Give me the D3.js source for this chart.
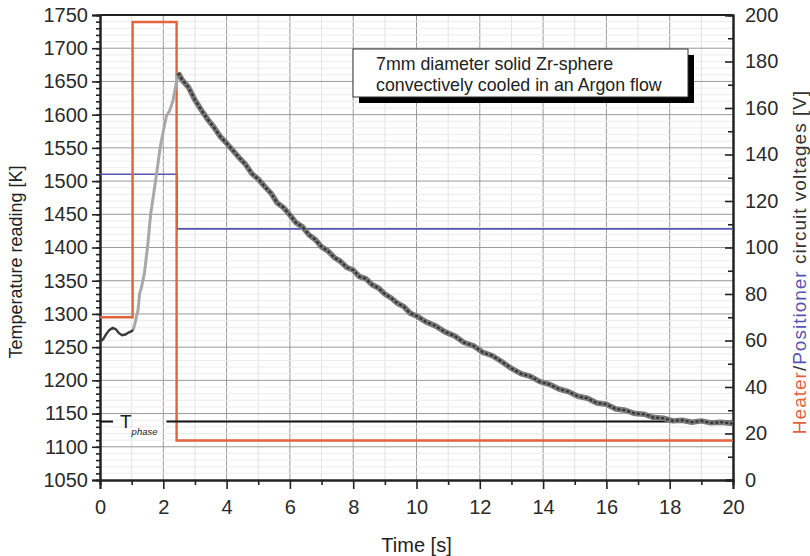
<!DOCTYPE html>
<html>
<head>
<meta charset="utf-8">
<script src="https://cdn.jsdelivr.net/npm/d3@7"></script>
<style>
  body { margin: 0; background: #fff; }
  svg { display: block; font-family: "Liberation Sans", Arial, sans-serif; }
</style>
</head>
<body>
<svg width="810" height="556"></svg>
<script>
// temperature reading [K] over time [s]
var tempColdTime = [0, 0.1, 0.2, 0.3, 0.4, 0.5, 0.6, 0.7, 0.8, 0.9, 1.0, 1.05];
var tempColdValue = [1258, 1262, 1270, 1276, 1279, 1277, 1271, 1268, 1269, 1272, 1274, 1276];

var tempHeatTime = [1.05, 1.1, 1.2, 1.25, 1.27, 1.3, 1.4, 1.5, 1.6, 1.7, 1.8, 1.9, 2.0, 2.1, 2.2, 2.3, 2.4, 2.47];
var tempHeatValue = [1276, 1285, 1305, 1330, 1334, 1338, 1360, 1400, 1450, 1482, 1515, 1550, 1575, 1598, 1606, 1620, 1645, 1663];

var tempCoolTime = [2.47, 2.6, 2.8, 3.0, 3.2, 3.4, 3.6, 3.8, 4.0, 4.2, 4.4, 4.6, 4.8, 5.0, 5.2, 5.4, 5.6, 5.8,
    6.0, 6.2, 6.4, 6.6, 6.8, 7.0, 7.2, 7.4, 7.6, 7.8, 8.0, 8.2, 8.4, 8.6, 8.8, 9.0, 9.2, 9.4, 9.6, 9.8,
    10.0, 10.3, 10.6, 10.9, 11.2, 11.5, 11.8, 12.1, 12.4, 12.7, 13.0, 13.3, 13.6, 13.9, 14.2, 14.5, 14.8,
    15.1, 15.4, 15.7, 16.0, 16.3, 16.6, 16.9, 17.2, 17.5, 17.8, 18.1, 18.4, 18.7, 19.0, 19.3, 19.6, 20.0];
var tempCoolValue = [1663, 1652, 1641, 1622, 1607, 1593, 1581, 1567, 1557, 1546, 1535, 1525, 1511, 1503, 1492, 1482, 1467, 1460,
    1449, 1437, 1431, 1419, 1412, 1401, 1395, 1385, 1379, 1370, 1366, 1356, 1353, 1344, 1339, 1330, 1324, 1316, 1311, 1301,
    1297, 1288, 1282, 1273, 1267, 1257, 1252, 1242, 1237, 1228, 1218, 1210, 1206, 1198, 1194, 1187, 1183,
    1176, 1173, 1166, 1164, 1157, 1155, 1150, 1149, 1144, 1143, 1139, 1140, 1137, 1139, 1136, 1137, 1135];

// circuit voltages [V]
var heaterTime = [0, 1.03, 1.03, 2.42, 2.42, 20];
var heaterVolt = [70, 70, 197, 197, 17, 17];
var positionerTime = [0, 2.44, 2.44, 20];
var positionerVolt = [131.5, 131.5, 108, 108];

var tPhase = 1138;

var xTicks = [0, 2, 4, 6, 8, 10, 12, 14, 16, 18, 20];
var yLeftTicks = [1050, 1100, 1150, 1200, 1250, 1300, 1350, 1400, 1450, 1500, 1550, 1600, 1650, 1700, 1750];
var yRightTicks = [0, 20, 40, 60, 80, 100, 120, 140, 160, 180, 200];

var boxLines = ["7mm diameter solid Zr-sphere", "convectively cooled in an Argon flow"];

var svg = d3.select("svg"),
    margin = {left: 100, right: 77, top: 15, bottom: 76},
    width = +svg.attr("width") - margin.left - margin.right,
    height = +svg.attr("height") - margin.top - margin.bottom,
    g = svg.append("g").attr("transform", "translate(" + margin.left + "," + margin.top + ")");

var x = d3.scaleLinear().domain([0, 20]).range([0, width]);
var yT = d3.scaleLinear().domain([1050, 1750]).range([height, 0]);
var yV = d3.scaleLinear().domain([0, 200]).range([height, 0]);

function zip(a, b) {
    return a.map(function (v, i) { return [v, b[i]]; });
}

// grid
g.append("g").selectAll("line").data(d3.range(1, 20, 1))
    .enter().append("line")
    .attr("x1", function (d) { return x(d); }).attr("x2", function (d) { return x(d); })
    .attr("y1", 0).attr("y2", height)
    .attr("stroke", function (d) { return d % 2 === 0 ? "#9a9a9a" : "#e2e2e2"; })
    .attr("stroke-width", 1);
g.append("g").selectAll("line").data(d3.range(1060, 1750, 10))
    .enter().append("line")
    .attr("x1", 0).attr("x2", width)
    .attr("y1", function (d) { return yT(d); }).attr("y2", function (d) { return yT(d); })
    .attr("stroke", function (d) { return d % 50 === 0 ? "#9a9a9a" : "#ececec"; })
    .attr("stroke-width", 1);

// axes
g.append("g").attr("transform", "translate(0," + height + ")")
    .call(d3.axisBottom(x).tickValues(xTicks).tickSize(9).tickPadding(11).tickFormat(d3.format("d")));
g.append("g").attr("transform", "translate(0," + height + ")")
    .call(d3.axisBottom(x).tickValues(d3.range(1, 20, 2)).tickSize(5).tickFormat(""));

g.append("g")
    .call(d3.axisLeft(yT).tickValues(yLeftTicks).tickSize(8).tickPadding(4).tickFormat(d3.format("d")));
g.append("g")
    .call(d3.axisLeft(yT).tickValues(d3.range(1060, 1750, 10)).tickSize(4).tickFormat(""));

g.append("g").attr("transform", "translate(" + width + ",0)")
    .call(d3.axisRight(yV).tickValues(yRightTicks).tickSize(-8).tickPadding(12).tickFormat(d3.format("d")));
g.append("g").attr("transform", "translate(" + width + ",0)")
    .call(d3.axisRight(yV).tickValues(d3.range(10, 200, 20)).tickSize(-5).tickFormat(""));

g.selectAll(".domain").attr("stroke", "#222").attr("stroke-width", 2);
g.selectAll(".tick line").attr("stroke", "#222").attr("stroke-width", 1.6);
g.selectAll(".tick text").attr("font-size", 20).attr("fill", "#2a2a2a")
    .attr("font-family", "Liberation Sans, Arial, sans-serif");

// top frame
g.append("line").attr("x1", 0).attr("x2", width).attr("y1", 0).attr("y2", 0)
    .attr("stroke", "#222").attr("stroke-width", 2);

// heater / positioner voltages
var lineV = d3.line()
    .x(function (d) { return x(d[0]); })
    .y(function (d) { return yV(d[1]); });
g.append("path").datum(zip(positionerTime, positionerVolt))
    .attr("d", lineV).attr("fill", "none").attr("stroke", "#5656b0").attr("stroke-width", 1.6);
g.append("path").datum(zip(heaterTime, heaterVolt))
    .attr("d", lineV).attr("fill", "none").attr("stroke", "#e4623e").attr("stroke-width", 2.4);

// T_phase line
g.append("line").attr("x1", x(2.1)).attr("x2", width)
    .attr("y1", yT(tPhase)).attr("y2", yT(tPhase))
    .attr("stroke", "#111").attr("stroke-width", 2);
g.append("line").attr("x1", 0).attr("x2", 13)
    .attr("y1", yT(tPhase)).attr("y2", yT(tPhase))
    .attr("stroke", "#111").attr("stroke-width", 2);
var tp = g.append("text").attr("x", 20).attr("y", yT(tPhase) + 6)
    .attr("font-size", 19).attr("fill", "#222");
tp.append("tspan").text("T");
tp.append("tspan").attr("dy", 7).attr("font-size", 9.5).attr("font-style", "italic").text("phase");

// temperature curve
var lineT = d3.line()
    .x(function (d) { return x(d[0]); })
    .y(function (d) { return yT(d[1]); });
g.append("path").datum(zip(tempHeatTime, tempHeatValue))
    .attr("d", lineT).attr("fill", "none").attr("stroke", "#a8a8a8").attr("stroke-width", 3);
g.append("path").datum(zip(tempColdTime, tempColdValue))
    .attr("d", lineT).attr("fill", "none").attr("stroke", "#3a3a3a").attr("stroke-width", 2.4);
g.append("path").datum(zip(tempCoolTime, tempCoolValue))
    .attr("d", lineT).attr("fill", "none").attr("stroke", "#7a7a7a").attr("stroke-width", 5.5)
    .attr("stroke-linejoin", "round");
g.append("path").datum(zip(tempCoolTime, tempCoolValue))
    .attr("d", lineT).attr("fill", "none").attr("stroke", "#333").attr("stroke-width", 2.2)
    .attr("stroke-dasharray", "3,2");

// annotation box
var box = g.append("g").attr("transform", "translate(" + (353 - margin.left) + "," + (49 - margin.top) + ")");
box.append("rect").attr("x", 6).attr("y", 6).attr("width", 335).attr("height", 48).attr("fill", "#000");
box.append("rect").attr("x", 0).attr("y", 0).attr("width", 335).attr("height", 48)
    .attr("fill", "#fff").attr("stroke", "#333").attr("stroke-width", 1);
box.selectAll("text.note").data(boxLines).enter().append("text")
    .attr("class", "note")
    .attr("x", 23).attr("y", function (d, i) { return 21 + i * 21; })
    .attr("font-size", 17.8).attr("fill", "#222")
    .text(function (d) { return d; });

// axis titles
svg.append("text").attr("x", margin.left + width / 2).attr("y", 552)
    .attr("text-anchor", "middle").attr("font-size", 20).attr("fill", "#222").text("Time [s]");
svg.append("text").attr("transform", "translate(22,262) rotate(-90)")
    .attr("text-anchor", "middle").attr("font-size", 18).attr("fill", "#222").text("Temperature reading [K]");
var rt = svg.append("text").attr("transform", "translate(806,262) rotate(-90)")
    .attr("text-anchor", "middle").attr("font-size", 19).attr("letter-spacing", 1).attr("fill", "#333");
rt.append("tspan").attr("fill", "#e4623e").text("Heater");
rt.append("tspan").text("/");
rt.append("tspan").attr("fill", "#5656b0").text("Positioner");
rt.append("tspan").text(" circuit voltages [V]");
</script>
</body>
</html>
